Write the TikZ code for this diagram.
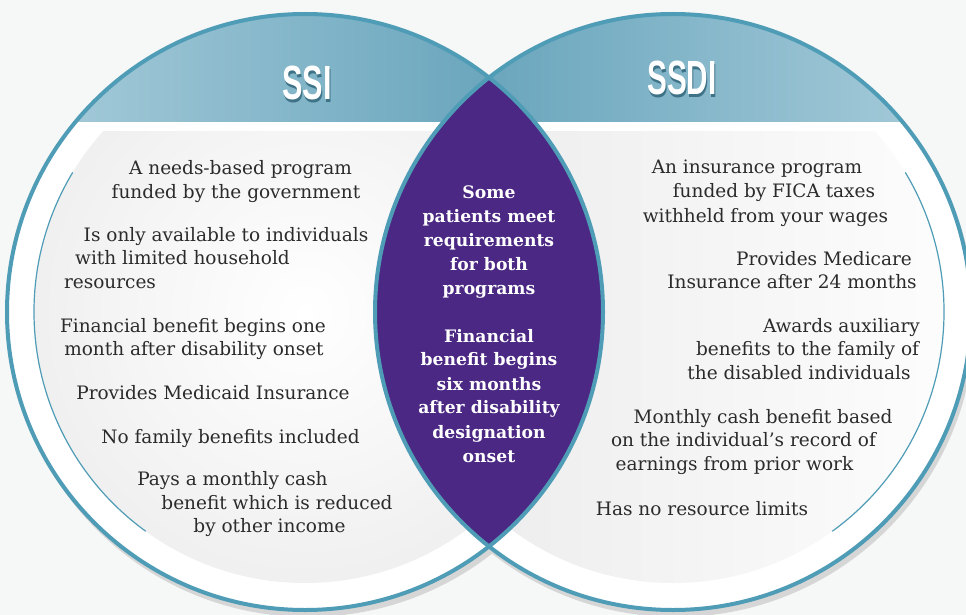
\documentclass[tikz,border=0pt]{standalone}
\usepackage{fontspec}
\setmainfont{DejaVu Serif}
\newfontfamily\headfont{Liberation Sans}
\definecolor{ringblue}{HTML}{4F9CB6}
\definecolor{bandlight}{HTML}{A9CDDB}
\definecolor{banddark}{HTML}{5C9DB6}
\definecolor{lenspurple}{HTML}{4A2883}
\definecolor{headshadow}{HTML}{3E7286}
\definecolor{bodytext}{HTML}{2B2B2B}
\definecolor{pagebg}{HTML}{F6F7F7}
\newcommand{\shadowtitle}[1]{\makebox[0pt][l]{\hspace{1.5pt}\raisebox{-2.5pt}{\textcolor{headshadow}{#1}}}#1}

\begin{document}
\begin{tikzpicture}[x=1pt,y=-1pt,
ring/.style={draw=ringblue,line width=4pt},
innerarc/.style={draw=ringblue,line width=1.2pt},
sidetext/.style={anchor=base,inner sep=0pt,text=bodytext,font=\fontsize{18.5}{22}\selectfont},
lenstext/.style={anchor=base,inner sep=0pt,text=white,font=\fontsize{17.2}{20}\selectfont\bfseries},
headtext/.style={anchor=base,inner sep=0pt,text=white,font=\headfont\bfseries\fontsize{48}{48}\selectfont}]
\useasboundingbox (0,0) rectangle (966,615);
\clip (0,0) rectangle (966,615);
\fill[pagebg] (0,0) rectangle (966,615);
\coordinate (ssic) at (305,312);
\coordinate (ssdic) at (673,312);
% shadows and plain discs
\fill[black!16] ([shift={(3,6)}]ssic) circle (299);
\fill[black!16] ([shift={(3,6)}]ssdic) circle (299);
\fill[white] (ssic) circle (298);
\fill[white] (ssdic) circle (298);
% grey bodies
\begin{scope}
\clip (0,132) rectangle (966,615);
\shade[inner color=white,outer color=black!6] (ssic) circle (271);
\shade[left color=black!8,right color=black!1] (ssdic) circle (271);
\end{scope}
% header bands
\begin{scope}
\clip (ssic) circle (298);
\shade[left color=bandlight,right color=banddark] (7,0) rectangle (603,122);
\end{scope}
\begin{scope}
\clip (ssdic) circle (298);
\shade[left color=banddark,right color=bandlight] (375,0) rectangle (971,122);
\end{scope}
% overlap
\begin{scope}
\clip (ssic) circle (298);
\fill[lenspurple] (ssdic) circle (298);
\end{scope}
\draw[innerarc] (ssic) ++(211:271) arc[start angle=211,end angle=126,radius=271];
\draw[innerarc] (ssdic) ++(-31:271) arc[start angle=-31,end angle=54,radius=271];
\draw[ring] (ssic) circle (298);
\draw[ring] (ssdic) circle (298);
% titles
\node[headtext] (ssi) at (307,100) {\scalebox{0.64}[1]{\shadowtitle{SSI}}};
\node[headtext] (ssdi) at (682,95) {\scalebox{0.62}[1]{\shadowtitle{SSDI}}};
% texts
\foreach \tx/\ty/\tline [count=\i] in {240.5/174/A needs-based program,
  236/198/funded by the government,
  226/241/Is only available to individuals,
  182.5/264/with limited household,
  110/288/resources,
  193/332/Financial benefit begins one,
  194/355/month after disability onset,
  213/399/Provides Medicaid Insurance,
  230.5/443/No family benefits included,
  232.5/485/Pays a monthly cash,
  277/509/benefit which is reduced,
  269.5/532/by other income}
  \node[sidetext] (ssiline\i) at (\tx,\ty) {\tline};
\foreach \tx/\ty/\tline [count=\i] in {757/173/An insurance program,
  774/197/funded by FICA taxes,
  765.5/222/withheld from your wages,
  824/265/Provides Medicare,
  792/288/Insurance after 24 months,
  841.5/332/Awards auxiliary,
  807.5/355/benefits to the family of,
  799/379/the disabled individuals,
  763/423/Monthly cash benefit based,
  743.5/446/on the individual’s record of,
  734.5/470/earnings from prior work,
  702/515/Has no resource limits}
  \node[sidetext] (ssdiline\i) at (\tx,\ty) {\tline};
\foreach \ty/\tline [count=\i] in {198/Some,222.5/patients meet,246/requirements,
  270/for both,294/programs,342/Financial,365/benefit begins,390/six months,
  413/after disability,438/designation,462/onset}
  \node[lenstext] (bothline\i) at (489,\ty) {\tline};
\end{tikzpicture}
\end{document}
